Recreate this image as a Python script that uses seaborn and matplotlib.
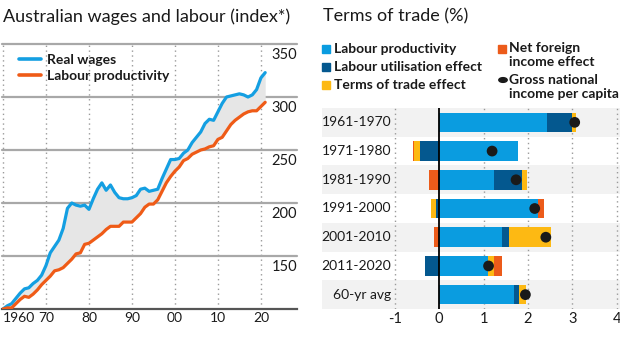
import matplotlib
matplotlib.use("Agg")
import matplotlib.pyplot as plt
import seaborn as sns
import pandas as pd
from matplotlib.patches import Rectangle, Circle

# ---- Australian wages and labour (index) ----
years = list(range(1960, 2022))
real_wages = [100, 103, 105, 110, 115, 119, 120, 124, 127, 132,
              141, 153, 159, 165, 176, 195, 200, 198, 197, 198,
              194, 204, 213, 219, 212, 217, 210, 205, 204, 204,
              205, 207, 213, 214, 211, 212, 213, 223, 232, 241,
              241, 242, 247, 250, 257, 262, 267, 275, 279, 278,
              286, 294, 300, 301, 302, 303, 302, 300, 302, 307,
              318, 323]
labour_productivity = [100, 101, 101, 105, 109, 112, 111, 114, 118, 123,
                       127, 131, 136, 137, 139, 143, 147, 152, 153, 161,
                       162, 165, 168, 171, 175, 178, 178, 178, 182, 182,
                       182, 186, 190, 196, 199, 199, 203, 211, 219, 225,
                       230, 234, 240, 242, 246, 248, 250, 251, 253, 254,
                       260, 262, 268, 274, 278, 281, 284, 286, 287, 287,
                       291, 295]
decade_ticks = [1960, 1970, 1980, 1990, 2000, 2010, 2020]
decade_labels = ["1960", "70", "80", "90", "00", "10", "20"]
index_levels = [150, 200, 250, 300, 350]

# ---- Terms of trade (%) ----
periods = ["1961-1970", "1971-1980", "1981-1990", "1991-2000",
           "2001-2010", "2011-2020", "60-yr avg"]
labour_prod = [2.42, 1.78, 1.23, 2.23, 1.42, 1.09, 1.69]
labour_util = [0.58, -0.44, 0.64, -0.08, 0.16, -0.31, 0.10]
terms_of_trade = [0.07, -0.13, 0.11, -0.11, 0.93, 0.14, 0.17]
net_foreign = [0.0, -0.03, -0.23, 0.12, -0.11, 0.19, 0.0]
gni_per_capita = [3.05, 1.19, 1.73, 2.15, 2.40, 1.11, 1.94]
pct_ticks = [-1, 0, 1, 2, 3, 4]

C_LIGHT = "#0a9ce0"
C_DARK = "#04588f"
C_YELLOW = "#fdb913"
C_ORANGE = "#ec5b1a"
LINE_BLUE = "#149fe2"
LINE_ORANGE = "#ef5b17"

sns.set_theme(style="white")
plt.rcParams["font.family"] = ["Lato", "DejaVu Sans"]
plt.rcParams["text.color"] = "#1a1a1a"

W, H = 620, 349
fig = plt.figure(figsize=(W / 100, H / 100), dpi=100)


def fx(px):
    return px / W


def fy(py):
    return 1 - py / H


# ================= left panel =================
ax1 = fig.add_axes([fx(2), fy(309), fx(297) - fx(2), fy(44) - fy(309)])
df = pd.DataFrame({"year": years * 2,
                   "value": real_wages + labour_productivity,
                   "series": ["Real wages"] * len(years)
                   + ["Labour productivity"] * len(years)})

ax1.fill_between(years, labour_productivity, real_wages,
                 color="#e6e6e6", lw=0, zorder=1)
for v in index_levels:
    ax1.axhline(v, color="#a8a8a8", lw=1.6, zorder=0.5, clip_on=False)
for v in decade_ticks:
    ax1.axvline(v, color="#9a9a9a", lw=1.0, ls=(0, (1, 2.5)), zorder=0.4)

sns.lineplot(data=df, x="year", y="value", hue="series",
             palette={"Real wages": LINE_BLUE,
                      "Labour productivity": LINE_ORANGE},
             lw=2.3, ax=ax1, zorder=3)

ax1.set_xlim(1959.77, 2028.4)
ax1.set_ylim(100, 350)
for s in ["top", "left", "right"]:
    ax1.spines[s].set_visible(False)
ax1.spines["bottom"].set_color("#555555")
ax1.spines["bottom"].set_linewidth(1.6)
ax1.set_xlabel("")
ax1.set_ylabel("")
ax1.set_yticks([])
ax1.set_xticks(decade_ticks)
ax1.set_xticklabels(decade_labels, fontsize=10)
ax1.get_xticklabels()[0].set_horizontalalignment("left")
ax1.tick_params(axis="x", length=0, pad=2.5, colors="#1a1a1a")

for v in index_levels:
    ax1.annotate(str(v), xy=(1, v), xycoords=("axes fraction", "data"),
                 xytext=(0, -3), textcoords="offset points",
                 ha="right", va="top", fontsize=10.5)

leg = ax1.legend(loc="upper left", bbox_to_anchor=(0.03, 0.995),
                 frameon=False, handlelength=1.6, handletextpad=0.4,
                 labelspacing=0.32, borderaxespad=0.2,
                 prop={"weight": "bold", "size": 10})
for line in leg.get_lines():
    line.set_linewidth(2.6)

fig.text(fx(3), fy(17), "Australian wages and labour (index*)",
         fontsize=13, ha="left", va="center", fontweight="normal")

# ================= right panel =================
ax2 = fig.add_axes([fx(322), fy(309), fx(620) - fx(322), fy(108) - fy(309)])
n = len(periods)
rows = list(range(n))
for i in rows:
    if i % 2 == 0:
        ax2.axhspan(i - 0.5, i + 0.5, color="#f2f2f2", lw=0, zorder=0)
for v in pct_ticks:
    if v != 0:
        ax2.axvline(v, color="#9a9a9a", lw=1.0, ls=(0, (1, 2.5)), zorder=0.5)

components = [(labour_prod, C_LIGHT), (labour_util, C_DARK),
              (terms_of_trade, C_YELLOW), (net_foreign, C_ORANGE)]
pos = [0.0] * n
neg = [0.0] * n
for vals, col in components:
    lefts = []
    for i, v in enumerate(vals):
        if v >= 0:
            lefts.append(pos[i])
            pos[i] += v
        else:
            lefts.append(neg[i])
            neg[i] += v
    ax2.barh(rows, vals, left=lefts, height=0.68, color=col, lw=0, zorder=2)

ax2.axvline(0, color="black", lw=1.3, zorder=3)
sns.scatterplot(x=gni_per_capita, y=rows, color="#1a1a1a", s=60,
                edgecolor="none", zorder=5, ax=ax2, legend=False)

ax2.set_xlim(-2.64, 4.07)
ax2.set_ylim(n - 0.5, -0.5)
for s in ax2.spines.values():
    s.set_visible(False)
ax2.set_yticks([])
ax2.set_xticks(pct_ticks)
ax2.set_xticklabels([str(t) for t in pct_ticks], fontsize=10.5)
ax2.tick_params(axis="x", length=0, pad=2.5, colors="#1a1a1a")
for i, p in enumerate(periods):
    ax2.text(-1.08, i, p, ha="right", va="center", fontsize=10)

fig.text(fx(323), fy(16), "Terms of trade (%)", fontsize=13,
         ha="left", va="center", fontweight="normal")

# legend for the bars
sq = 8
for (label, col, yc) in [("Labour productivity", C_LIGHT, 49),
                         ("Labour utilisation effect", C_DARK, 67),
                         ("Terms of trade effect", C_YELLOW, 85)]:
    fig.patches.append(Rectangle((fx(322), fy(yc + sq / 2)), fx(sq), sq / H,
                                 transform=fig.transFigure, color=col))
    fig.text(fx(334), fy(yc), label, fontsize=10, fontweight="bold",
             ha="left", va="center")
fig.patches.append(Rectangle((fx(498), fy(49 + sq / 2)), fx(sq), sq / H,
                             transform=fig.transFigure, color=C_ORANGE))
fig.text(fx(509), fy(55.5), "Net foreign\nincome effect", fontsize=10,
         fontweight="bold", ha="left", va="center", linespacing=1.2)
fig.patches.append(Circle((fx(503), fy(80)), 4.2 / W,
                          transform=fig.transFigure, color="#1a1a1a"))
fig.text(fx(509), fy(86.5), "Gross national\nincome per capita", fontsize=10,
         fontweight="bold", ha="left", va="center", linespacing=1.2)

fig.savefig("out.png", dpi=100)
